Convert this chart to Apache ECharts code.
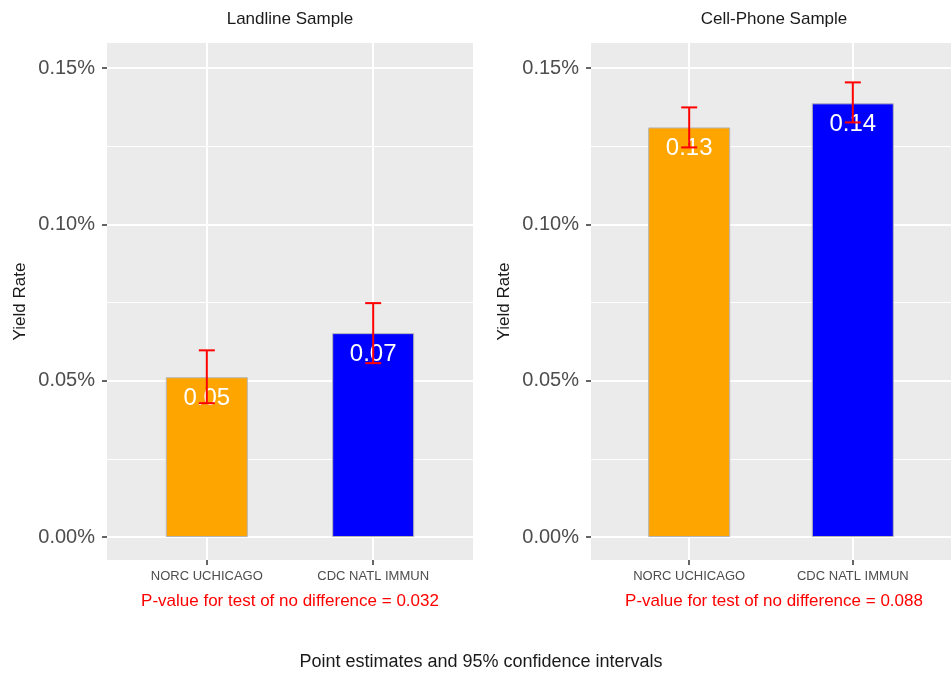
<!DOCTYPE html>
<html>
<head>
<meta charset="utf-8">
<script src="https://cdn.jsdelivr.net/npm/echarts@6/dist/echarts.min.js"></script>
<style>
  html, body { margin: 0; padding: 0; background: #fff; }
  #chart { width: 951px; height: 677px; }
</style>
</head>
<body>
<div id="chart"></div>
<script>
var categories = ['NORC UCHICAGO', 'CDC NATL IMMUN'];
var barColors = ['#FFA500', '#0000FF'];

// yield rate in percent, with 95% CI bounds
var landlineRate = [0.0511, 0.0652];
var landlineLow = [0.0428, 0.0556];
var landlineHigh = [0.0597, 0.0748];

var cellRate = [0.1310, 0.1387];
var cellLow = [0.1246, 0.1326];
var cellHigh = [0.1374, 0.1454];

var yTicks = [0, 0.05, 0.10, 0.15];
var yMinor = [0.025, 0.075, 0.125];
var yMin = -0.00736, yMax = 0.1580;

var fontFam = '"Liberation Sans", Arial, sans-serif';

myChart = echarts.init(document.getElementById('chart'));

var grids = [], xAxes = [], yAxes = [], series = [];

function addPanel(i, left, rates, lows, highs) {
    grids.push({
        left: left, top: 43, width: 366, height: 517,
        show: true, backgroundColor: '#EBEBEB', borderWidth: 0
    });
    xAxes.push({
        type: 'value', gridIndex: i, min: -0.6, max: 1.6, position: 'bottom',
        axisLine: { show: false, onZero: false },
        axisTick: { customValues: [0, 1], length: 5, lineStyle: { color: '#333', width: 1.5 } },
        axisLabel: {
            customValues: [0, 1], margin: 10,
            color: '#4D4D4D', fontSize: 13, fontFamily: fontFam,
            formatter: function (v) { return categories[Math.round(v)]; }
        },
        splitLine: { show: true, lineStyle: { color: '#fff', width: 2 } }
    });
    yAxes.push({
        type: 'value', gridIndex: i, min: yMin, max: yMax, position: 'left',
        name: 'Yield Rate', nameLocation: 'middle', nameGap: 78, nameRotate: 90,
        nameTextStyle: { color: '#1a1a1a', fontSize: 17, fontFamily: fontFam },
        axisLine: { show: false, onZero: false },
        axisTick: { customValues: yTicks, length: 5, lineStyle: { color: '#333', width: 1.5 } },
        axisLabel: {
            customValues: yTicks, margin: 12,
            color: '#4D4D4D', fontSize: 20, fontFamily: fontFam,
            formatter: function (v) { return v.toFixed(2) + '%'; }
        },
        splitLine: { show: true, lineStyle: { color: '#fff', width: 2 } }
    });
    yAxes.push({
        type: 'value', gridIndex: i, min: yMin, max: yMax, position: 'left',
        axisLine: { show: false, onZero: false },
        axisTick: { show: false, customValues: yMinor },
        axisLabel: { show: false, customValues: yMinor },
        splitLine: { show: true, lineStyle: { color: '#fff', width: 1 } }
    });
    series.push({
        type: 'bar', xAxisIndex: i, yAxisIndex: 2 * i,
        barWidth: 82,
        data: rates.map(function (v, k) {
            return { value: [k, v], itemStyle: { color: barColors[k] } };
        }),
        itemStyle: { borderColor: '#B5B5B5', borderWidth: 1 },
        label: {
            show: true, position: 'insideTop', distance: 9,
            color: '#fff', fontSize: 24, fontFamily: fontFam,
            formatter: function (p) { return p.value[1].toFixed(2); }
        },
        z: 3
    });
    series.push({
        type: 'custom', xAxisIndex: i, yAxisIndex: 2 * i, z: 10,
        data: lows.map(function (lo, k) { return [k, lo, highs[k]]; }),
        encode: { x: 0, y: [1, 2] },
        renderItem: function (params, api) {
            var x = api.value(0);
            var pLo = api.coord([x, api.value(1)]);
            var pHi = api.coord([x, api.value(2)]);
            var half = 8;
            var st = { stroke: '#FF0000', lineWidth: 2 };
            return {
                type: 'group',
                children: [
                    { type: 'line', shape: { x1: pLo[0], y1: pLo[1], x2: pHi[0], y2: pHi[1] }, style: st },
                    { type: 'line', shape: { x1: pHi[0] - half, y1: pHi[1], x2: pHi[0] + half, y2: pHi[1] }, style: st },
                    { type: 'line', shape: { x1: pLo[0] - half, y1: pLo[1], x2: pLo[0] + half, y2: pLo[1] }, style: st }
                ]
            };
        }
    });
}

addPanel(0, 107, landlineRate, landlineLow, landlineHigh);
addPanel(1, 591, cellRate, cellLow, cellHigh);

function txt(x, y, s, size, color) {
    return {
        type: 'text', x: x, y: y, silent: true,
        style: { text: s, align: 'center', verticalAlign: 'middle',
                 fontSize: size, fontFamily: fontFam, fill: color }
    };
}

option = {
    backgroundColor: '#fff',
    animation: false,
    grid: grids,
    xAxis: xAxes,
    yAxis: yAxes,
    series: series,
    graphic: [
        txt(290, 19, 'Landline Sample', 17, '#1a1a1a'),
        txt(774, 19, 'Cell-Phone Sample', 17, '#1a1a1a'),
        txt(290, 601, 'P-value for test of no difference = 0.032', 17, '#FF0000'),
        txt(774, 601, 'P-value for test of no difference = 0.088', 17, '#FF0000'),
        txt(481, 662, 'Point estimates and 95% confidence intervals', 18, '#1a1a1a')
    ]
};
myChart.setOption(option);
</script>
</body>
</html>
